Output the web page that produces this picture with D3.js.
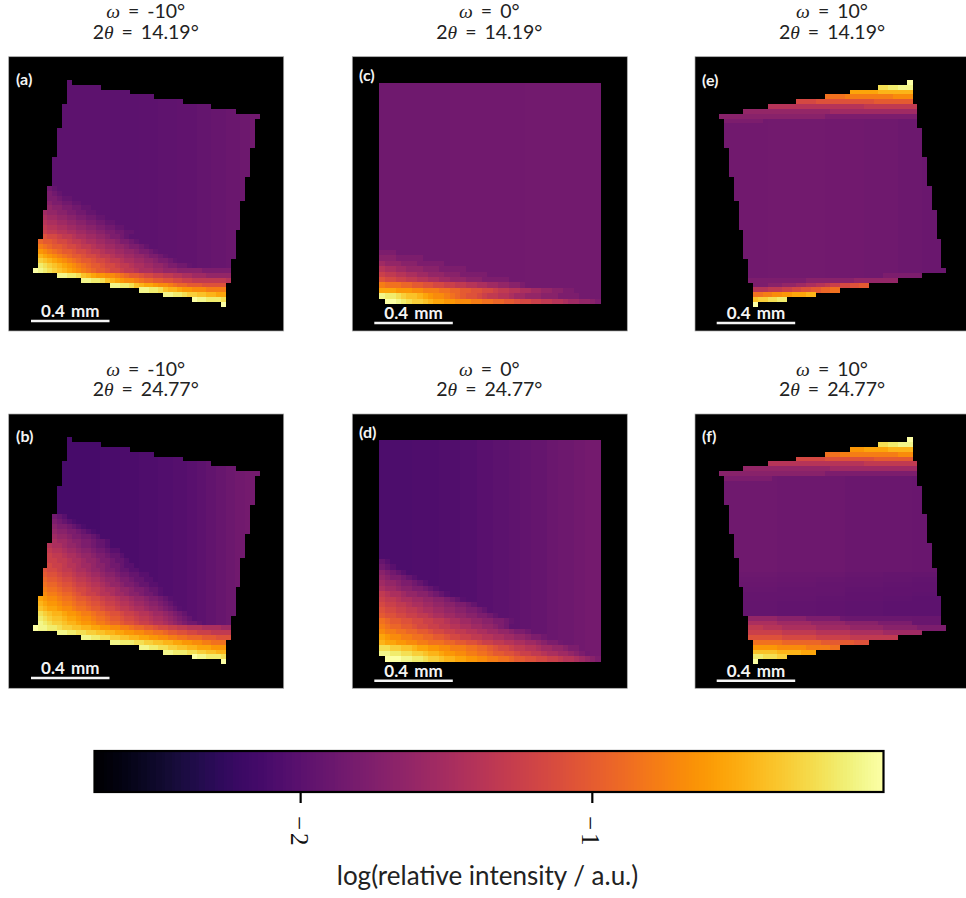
<!DOCTYPE html>
<html>
<head>
<meta charset="utf-8">
<title>Relative intensity maps</title>
<script src="https://d3js.org/d3.v7.min.js"></script>
<style>
  html, body { margin: 0; padding: 0; background: #fff; overflow: hidden; }
  svg { display: block; }
  text { font-family: Lato, sans-serif; }
</style>
</head>
<body>
<div id="chart"></div>
<script>
// levels run 0..35 along the colour bar
// bgX holds the level of the flat part of each column
// rowsX holds the bright cells, one base 36 character per cell, from the first cell of the row
var bgA = [9.4,9.4,9.4,9.4,9.4,9.4,9.4,9.4,9.3,9.3,9.3,9.3,9.3,9.3,9.3,9.3,9.2,9.2,9.2,9.2,9.2,9.2,9.3,9.3,9.3,9.3,
  9.5,9.5,9.5,9.5,9.7,9.7,9.7,9.7,9.9,9.9,9.9,10.2,10.2,10.2,10.5,10.5,10.5,10.8,10.8,11,11];
var rowsA = ["","","","","","","","","","","","","","","","","","","","","","",
  "ba","cba","ccbaa","dccbbaa","eddccbbaa",
  "feeddccbbaa","gffeeddccbbaa","hggffeeddccbbaa","ihhggffeeddccbbaa","jiihhggffeeddccbbaa","lkkjiihggffeedccba",
  "nmmlkkjiihggffeedccba","ponmmlkkjiihggffeedccba","rqponmmlkkjiihggffeedccba","tsrqponmmlkkjiihggffeedccba",
  "vutsrqponmmlkkjiihggffeedccba","xwvutsrqponmmlkkjiihggffeedccbba",
  "zyxwvutsrqponmmlkkjiihgggffeeedddddcccccc",
  "yyxxwutsrrqqponmmlkkjjiihhggfffeeeee",
  "yyxxwutsrqqponnmmllkkjjiiiiiiih",
  "yyxxwutssrqqponnmmmlllll",
  "yyxxwuttsrrqqqpppp",
  "yyxxwvvuuttss",
  "zyyxxxw",
  "z"];

var bgB = [7.4,7.4,7.4,7.4,7.4,7.4,7.4,7.4,7.5,7.5,7.5,7.5,7.5,7.5,7.7,7.7,7.7,7.7,7.9,7.9,7.9,7.9,8.1,8.1,8.1,8.1,
  8.4,8.4,8.4,8.7,8.7,8.7,9,9,9.4,9.4,9.8,9.8,10.2,10.2,10.6,10.6,11,11,11.3,11.3,11.3];
var rowsB = ["","","","","","","","","","","","","","","","",
  "ba9","cba98","dccba98","eddccba98","feedccbba9","gffeddccbaa9",
  "hggfeedccbaa9","ihhgffeddcbba99","jiihggfeedccbaa9","jjiihggfeedccbaa9","kjjihhgffeddcbba99",
  "lkkjiihggfeedccbaa99","mllkjjihhgffeddcbbaa99","nmmlkkjiihggfeedccbaa99","onnmllkjjihhgfeedccbaa99",
  "poonmmlkkjiihggfeedccbaa9","qpponnmlkjjihhgffeddcbba9",
  "srqqpoonmmlkkjiihggfeedccba9","tsrrqpponnmllkjjihhgffeddcba9","utssrqqpoonmmlkkjiihggfeedcba9",
  "wvuttsrrqpponnmllkjjihhgffedcba","xwvuutssrqqpoonmmlkkjiihggfedcba","yxwvvuttsrrqpponnmllkjjihhgfedcbba",
  "zyyxxwvvuuttssrrqqpponnmmlkkjjiihhhggggff",
  "yyxxwwvvuuttssrrqqppoonmmllkkjjjiiii",
  "yyxxwwvvuuttssrrqqppoonnnmmmlll",
  "yyxxxwwvvuuttssrrqqppooo",
  "yyxxwwvvuuttsssrrr",
  "yyxxxwwvvuutt",
  "zyyxxxw",
  "z"];

var bgC = [10.9,10.9,10.9,10.9,10.9,10.9,10.9,10.9,10.9,10.9,10.9,10.9,10.9,11,11,11,11,11,11,11,11,11,11,11,11,11,11,
  11.1,11.1,11.1,11.1,11.1,11.1,11.1,11.1,11.1,11.1,11.1,11.1,11.1,11.1];
var rowsC = ["","","","","","","","","","","","","","","","","","","","","","","","","","","","","","","",
  "ccc","dddccccc","feeedddccccc","hggffeeedddccccc","jiihhggffeeedddccccc",
  "lkkjjiihhggffeeedddccccc","pooonnmmllkkjjiihhggffeeddc","sssrrrqqpppoonnmmllkkjiihhggffeeddcc",
  "yxxwvuutsrqqponmllkjiihhgffeeedddcccc",
  "zzyxwvvutssrrqqqppoonnmmlkkjjiihhgffeedc"];

var bgD = [8,8,8,8,8,8,8.1,8.1,8.1,8.1,8.1,8.3,8.3,8.3,8.3,8.6,8.6,8.6,8.9,8.9,8.9,9.2,9.2,9.2,9.5,9.5,
  9.8,9.8,10.1,10.1,10.1,10.4,10.4,10.7,10.7,10.7,11,11,11.3,11.3,11.3];
var rowsD = ["","","","","","","","","","","","","","","","","","","","","","",
  "a9","ba9","dcba9","edccba9","feedccba9","gffeddccba9","ihggfeeddcba9","jiihggffeeddcba9",
  "kjjiihggffeeddccba","lkkjjiihggffeeddccba","mllkkjjiihggffeeddccba","onmmllkkjjiihggffeeddccba",
  "ponnmmlkkjjiihhggffeedcb","qppoonnmmlkkjjiihhggffeedccb","srqqppoonnmmlkkjjiihhggffeedccb",
  "tssrrqqppooonnmmllkjjiihhggffedccb","wwvvuutssrrqqpppoonnmlkkjiihhgffeedccb",
  "yyxxwwvvuttsrrqqppoonmmllkjjiihggffedcb",
  "zzzyyxxwvvuttssrrqqppoonmmllkkjjihhgfedc"];

var bgE = [11,11,11,11,11,11,11,11,11,11,11.1,11.1,11.1,11.1,11.1,11.1,11.1,11.1,11.1,11.1,11.1,11.1,
  11,11,11,11,11,11,11,11,10.9,10.9,10.9,10.9,10.9,10.9,10.9,10.6,10.6,10.6,10.6,10.6,10.5,10.5,10.5,10.5,10.5];
var rowsE = ["z","wwxxyyy","ssssssttttttt","ooooppppppppppqqqq",
  "kkkkllllllllllllmmmmmmmm",
  "hhhhhhhhhhhhhhhhhhhhiiiiiiiiiii",
  "eeeeeeeeeeeeeeeeeeffffffffffffffffff",
  "ddddddddddddddddddddddccccccccccccccccccc",
  "cccccccc",
  "","","","","","","","","","","","","","","","","","","","","","","","","","","","","","","",
  "............................cccccccc",
  "ccccccccccccddddddddddeeeeeeeee",
  "cccdddeeeffgghhijjkkllmm",
  "hhhiiijjkkllmmnnoo",
  "ooppqqrrssstt",
  "uvvwwxx",
  "z"];

var bgF = [10.9,10.9,10.9,10.9,10.9,10.9,10.9,10.9,10.9,10.9,10.9,10.9,10.8,10.8,10.8,10.8,10.8,10.8,10.8,10.8,
  10.7,10.7,10.7,10.7,10.7,10.7,10.5,10.5,10.5,10.5,10.5,10.5,10.5,10.5,10.4,10.4,10.4,10.4,10.4,10.4,10.3,10.3,10.3,10.3,10.3,10.3,10.3];
// panel (f) gets darker towards the lower band, level change per row
var shadeF = [0,0,0,0,0,0,0,0,0,0,0,0,0,0,0,0,0,0,0,0,0,0,0,0,0,0,0,0,
  -0.3,-0.5,-0.6,-0.7,-0.8,-0.9,-1,-1,-1];
var rowsF = ["z","wwxxyyy","rrrsssssttttt","oooppppppppppppqqq",
  "kkkkkkllllllllllmmmmmmmm",
  "hhhhhhhhhhhhhhhhhhhhiiiiiiiiiii",
  "eeeeeeeeeeeeeeeeeeffffffffffffffffff",
  "ddddddddddddddddddddddccccccccccccccccccc",
  "cccccccccc",
  "","","","","","","","","","","","","","","","","","","","","","","","","","","","",
  "eeeeeeddddddccccccc",
  "ggggggfffffffeeeeeeedddddddccccccc",
  "iiihhhhgggggggfffffffeeeeeeedddddddcccccc",
  "jjjjjjjiiiiiiihhhhhhhgggggggffffffff",
  "lllllllkkkkkkkjjjjjjjiiiiiiiiii",
  "oooooonnnnnnnnmmmmmmmlll",
  "rrrrrqqqqqqpppppoo",
  "uuuuutttttsss",
  "xxwwwvv",
  "z"];

// first and one-past-last column of every row of the tilted sample
var tiltedSpans = [[7,8],[7,14],[7,20],[7,25],[7,31],[6,37],[6,42],[6,47],[6,46],[6,46],
  [5,46],[5,46],[5,46],[5,46],[5,45],[5,45],[4,45],[4,45],[4,45],[4,45],[4,44],[4,44],
  [3,44],[3,44],[3,44],[3,43],[3,43],[2,43],[2,43],[2,43],[2,43],[2,42],[2,42],
  [1,42],[1,42],[1,42],[1,42],[1,41],[1,41],[0,41],[5,41],[10,41],[16,40],[22,40],[27,40],[33,40],[39,40]];

var omegas = ["-10", "0", "10"];
var twoThetas = ["14.19", "24.77"];
var panelLetters = ["(a)", "(b)", "(c)", "(d)", "(e)", "(f)"];
var colorbarTicks = [-2, -1];
var colorbarTickLabels = ["\u22122", "\u22121"];
var logMin = -2.705, logMax = 0;
var scaleBarMm = 0.4;

var mirroredSpans = tiltedSpans.map(function(s) { return [47 - s[1], 47 - s[0]]; });
var squareSpans = d3.range(41).map(function(r) { return r == 40 ? [1, 41] : [0, 41]; });

var panels = [
  { letter: 0, om: 0, th: 0, frame: [8.7, 56.7], x: [33, 259.3], y: [80, 306.7], bg: bgA, rows: rowsA, spans: tiltedSpans, lx: 16, ly: 85, bar: [31, 321] },
  { letter: 1, om: 0, th: 1, frame: [8.7, 414], x: [33, 259.3], y: [437.3, 664], bg: bgB, rows: rowsB, spans: tiltedSpans, lx: 16, ly: 442, bar: [31, 678] },
  { letter: 2, om: 1, th: 0, frame: [352.3, 56.7], x: [379.3, 600.7], y: [82.7, 304], bg: bgC, rows: rowsC, spans: squareSpans, lx: 359, ly: 81, bar: [374.3, 323] },
  { letter: 3, om: 1, th: 1, frame: [352.3, 414], x: [379.3, 600.7], y: [440, 661.3], bg: bgD, rows: rowsD, spans: squareSpans, lx: 359, ly: 438, bar: [374.3, 680.7] },
  { letter: 4, om: 2, th: 0, frame: [695, 56.7], x: [719.3, 946], y: [80, 306.7], bg: bgE, rows: rowsE, spans: mirroredSpans, lx: 702, ly: 86, bar: [716.7, 323] },
  { letter: 5, om: 2, th: 1, frame: [695, 414], x: [719.3, 946], y: [437.3, 664], bg: bgF, rows: rowsF, shade: shadeF, spans: mirroredSpans, lx: 702, ly: 442, bar: [716.7, 680.7] }
];

var frameSize = 275;

var svg = d3.select("#chart").append("svg")
  .attr("width", 966)
  .attr("height", 898);

var color = d3.scaleSequential(d3.interpolateInferno).domain([logMin, logMax]);
var levelToLog = d3.scaleLinear().domain([0, 35]).range([logMin, logMax]);
var mmScale = d3.scaleLinear().domain([0, scaleBarMm]).range([0, 78.5]);

function cellsOf(p) {
  var cells = [];
  p.spans.forEach(function(span, r) {
    var row = p.rows[r] || "";
    var shade = (p.shade && p.shade[r]) || 0;
    for (var c = span[0]; c < span[1]; c++) {
      var ch = row.charAt(c - span[0]);
      var level = (ch === "" || ch === ".") ? p.bg[c] + shade : parseInt(ch, 36);
      cells.push({ row: r, col: c, value: levelToLog(level) });
    }
  });
  return cells;
}

panels.forEach(function(p) {
  var g = svg.append("g");

  g.append("rect")
    .attr("x", p.frame[0])
    .attr("y", p.frame[1])
    .attr("width", frameSize)
    .attr("height", frameSize - 0.7)
    .attr("fill", "#000")
    .attr("stroke", "#aaa")
    .attr("stroke-width", 0.7);

  var xScale = d3.scaleBand().domain(d3.range(p.bg.length)).range(p.x);
  var yScale = d3.scaleBand().domain(d3.range(p.spans.length)).range(p.y);

  g.append("g")
    .attr("shape-rendering", "crispEdges")
    .style("filter", "blur(0.4px)")
    .selectAll("rect")
    .data(cellsOf(p))
    .enter()
    .append("rect")
    .attr("x", function(d) { return xScale(d.col); })
    .attr("y", function(d) { return yScale(d.row); })
    .attr("width", xScale.bandwidth() + 0.3)
    .attr("height", yScale.bandwidth() + 0.3)
    .attr("fill", function(d) { return color(d.value); });

  // title, two lines above the frame
  var cx = p.frame[0] + 137;
  var title = g.append("text")
    .attr("text-anchor", "middle")
    .attr("font-size", 19.5)
    .attr("word-spacing", 3)
    .attr("fill", "#222");
  title.append("tspan")
    .attr("x", cx)
    .attr("y", p.frame[1] - 38.5)
    .attr("font-style", "italic")
    .style("font-family", "'Liberation Serif'")
    .text("\u03c9");
  title.append("tspan").text(" = " + omegas[p.om] + "\u00b0");
  title.append("tspan")
    .attr("x", cx)
    .attr("y", p.frame[1] - 18)
    .text("2");
  title.append("tspan")
    .attr("font-style", "italic")
    .style("font-family", "'Liberation Serif'")
    .text("\u03b8");
  title.append("tspan").text(" = " + twoThetas[p.th] + "\u00b0");

  g.append("text")
    .attr("x", p.lx)
    .attr("y", p.ly)
    .attr("font-size", 16)
    .attr("font-weight", 700)
    .attr("fill", "#f4f4f4")
    .text(panelLetters[p.letter]);

  // scale bar
  g.append("line")
    .attr("x1", p.bar[0])
    .attr("x2", p.bar[0] + mmScale(scaleBarMm))
    .attr("y1", p.bar[1])
    .attr("y2", p.bar[1])
    .attr("stroke", "#f4f4f4")
    .attr("stroke-width", 2.5);

  g.append("text")
    .attr("x", p.bar[0] + mmScale(scaleBarMm) / 2)
    .attr("y", p.bar[1] - 4)
    .attr("text-anchor", "middle")
    .attr("font-size", 17)
    .attr("font-weight", 700)
    .attr("word-spacing", 2)
    .attr("fill", "#f4f4f4")
    .text(scaleBarMm + " mm");
});

// colour bar
var cbX = d3.scaleLinear().domain([logMin, logMax]).range([94.5, 883.5]);
var cbTop = 751, cbHeight = 41;
var cbSteps = d3.range(0, 256).map(function(i) { return logMin + (logMax - logMin) * i / 256; });
var cbStep = (logMax - logMin) / 256;

svg.append("g")
  .attr("shape-rendering", "crispEdges")
  .selectAll("rect")
  .data(cbSteps)
  .enter()
  .append("rect")
  .attr("x", function(d) { return cbX(d); })
  .attr("y", cbTop)
  .attr("width", cbX(cbStep) - cbX(0) + 0.5)
  .attr("height", cbHeight)
  .attr("fill", function(d) { return color(d); });

svg.append("rect")
  .attr("x", cbX(logMin))
  .attr("y", cbTop)
  .attr("width", cbX(logMax) - cbX(logMin))
  .attr("height", cbHeight)
  .attr("fill", "none")
  .attr("stroke", "#000")
  .attr("stroke-width", 2.2);

var cbAxis = d3.axisBottom(cbX)
  .tickValues(colorbarTicks)
  .tickSize(11)
  .tickFormat(function(d, i) { return colorbarTickLabels[i]; });

var cbG = svg.append("g")
  .attr("transform", "translate(0," + (cbTop + cbHeight) + ")")
  .call(cbAxis);
cbG.select(".domain").remove();
cbG.selectAll(".tick line").attr("stroke", "#000").attr("stroke-width", 2.2);
cbG.selectAll(".tick text")
  .attr("fill", "#111")
  .style("font-family", "'Liberation Serif', serif")
  .style("font-size", "25px")
  .attr("text-anchor", "start")
  .attr("letter-spacing", 3)
  .attr("dy", 0)
  .attr("y", 0)
  .attr("transform", "translate(-10,24) rotate(90)");

svg.append("text")
  .attr("x", 487.5)
  .attr("y", 885)
  .attr("text-anchor", "middle")
  .attr("font-size", 26)
  .attr("fill", "#222")
  .text("log(relative intensity / a.u.)");
</script>
</body>
</html>
